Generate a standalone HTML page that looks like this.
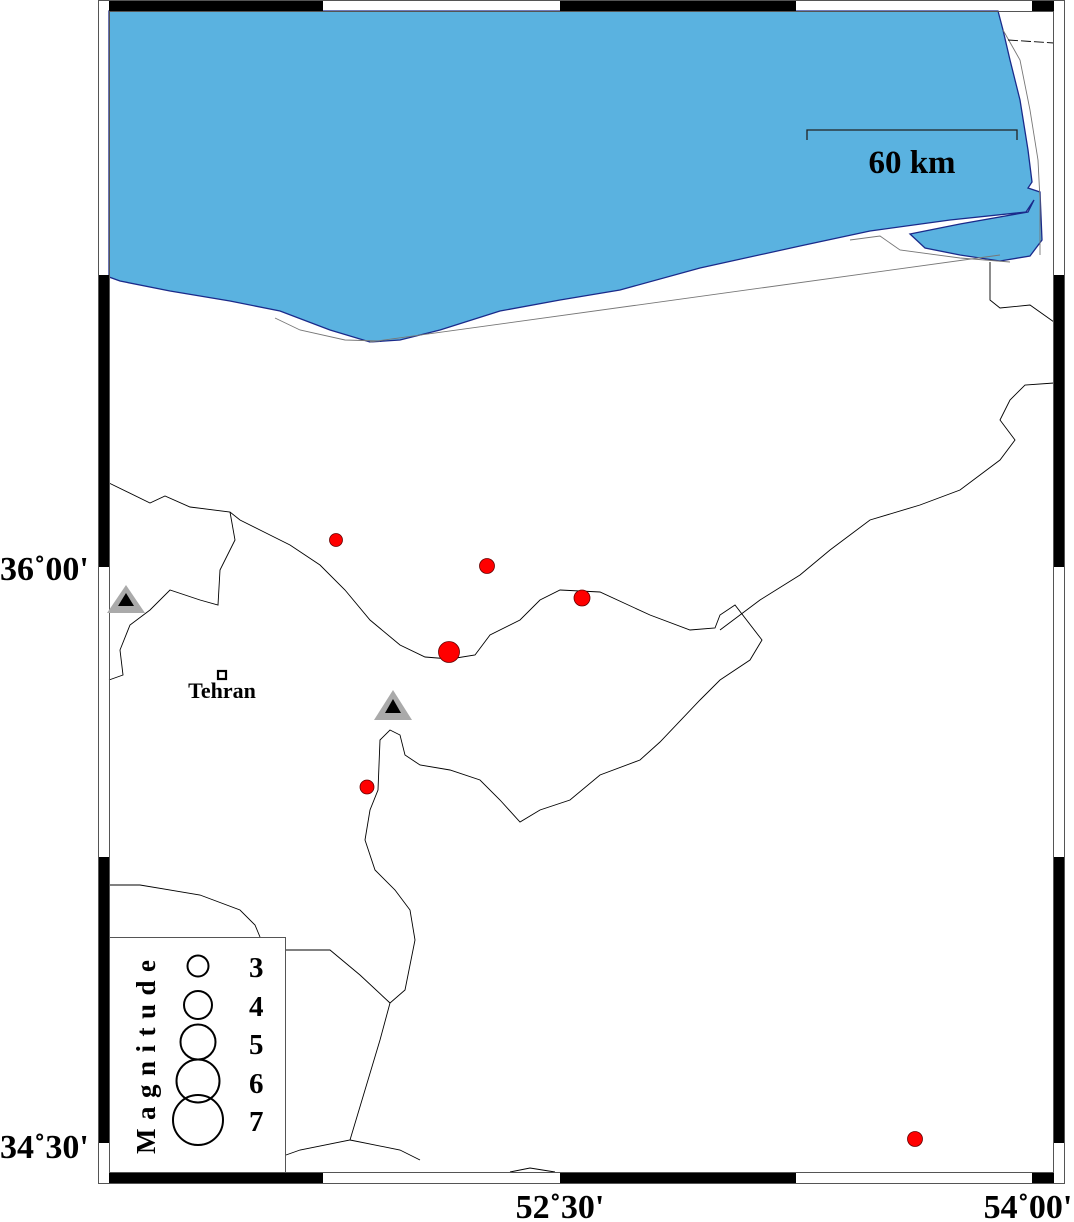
<!DOCTYPE html>
<html><head><meta charset="utf-8"><style>
html,body{margin:0;padding:0;background:#fff;}
svg{display:block;}
text{font-family:"Liberation Serif",serif;font-weight:bold;}
</style></head><body>
<svg width="1074" height="1222" viewBox="0 0 1074 1222" xmlns="http://www.w3.org/2000/svg">
<rect width="1074" height="1222" fill="#fff"/>
<path d="M109,11 L998,11 L1003,30 L1010,60 L1020,100 L1028,150 L1032,182 L1028,188 L1040,192 L1042,240 L1030,256 L1000,261 L960,255 L925,248 L910,234 L960,224 L1028,212 L1034,200 L1026,212 L950,220 L870,231 L800,246 L700,268 L620,290 L560,300 L500,311 L440,330 L400,340 L370,342 L330,330 L280,311 L230,301 L170,291 L120,281 L109,277 Z" fill="#5ab2e0" stroke="#1a2a8a" stroke-width="1.3"/>
<g fill="none" stroke="#777" stroke-width="0.9">
<path d="M370,342 L1000,255"/>
<path d="M275,318 L300,330 L345,340 L380,341"/>
<path d="M1003,30 L1020,60 L1030,110 L1038,160 L1040,200 L1040,255"/>
<path d="M850,240 L880,236 L900,250 L960,258 L1010,262"/>
</g>
<g fill="none" stroke="#000" stroke-width="0.9">
<path d="M1008,40 L1054,43" stroke-dasharray="10,3"/>
<path d="M990,262 L990,300 L1000,308 L1030,305 L1054,322"/>
<path d="M109,483 L150,503 L165,496 L190,507 L230,512 L240,520 L270,535 L290,545 L320,565 L345,590 L370,620 L400,645 L425,657 L450,659 L475,655 L490,635 L520,620 L540,600 L560,590 L600,592 L650,615 L690,630 L715,628 L720,615 L735,605 L762,640 L750,660 L720,680 L700,700 L660,742 L640,760 L600,775 L570,800 L540,810 L520,822 L500,800 L480,780 L450,770 L420,765 L405,755 L400,735 L390,730 L380,740 L378,790 L370,810 L365,840 L375,870 L395,890 L410,910 L415,940 L405,990 L390,1003 L380,1040 L365,1090 L350,1140 L300,1150 L286,1155"/>
<path d="M720,630 L760,600 L800,575 L830,550 L870,520 L920,505 L960,490 L1000,460 L1015,440 L1000,420 L1010,400 L1025,385 L1054,383"/>
<path d="M230,512 L235,540 L220,570 L218,605 L200,600 L170,590 L150,610 L130,625 L120,650 L123,675 L109,680"/>
<path d="M109,885 L140,885 L200,895 L240,910 L255,925 L260,937"/>
<path d="M286,950 L330,950 L360,975 L390,1003"/>
<path d="M350,1140 L400,1150 L420,1160"/>
<path d="M510,1172 L530,1168 L555,1172"/>
</g>
<rect x="98.5" y="0.5" width="966" height="1183" fill="none" stroke="#555" stroke-width="1"/>
<rect x="109.5" y="11.5" width="944" height="1161" fill="none" stroke="#555" stroke-width="1"/>
<g fill="#000">
<rect x="109" y="1" width="214" height="10"/><rect x="560" y="1" width="236" height="10"/><rect x="1032" y="1" width="22" height="10"/>
<rect x="109" y="1173" width="214" height="10"/><rect x="560" y="1173" width="236" height="10"/><rect x="1032" y="1173" width="22" height="10"/>
<rect x="99" y="275" width="10" height="292"/><rect x="99" y="857" width="10" height="286"/>
<rect x="1054" y="275" width="10" height="292"/><rect x="1054" y="857" width="10" height="286"/>
</g>
<path d="M807,140 L807,130 L1017,130 L1017,140" fill="none" stroke="#222" stroke-width="1.3"/>
<text x="912" y="173" font-size="33" text-anchor="middle">60 km</text>
<g fill="#f00" stroke="#600" stroke-width="0.8">
<circle cx="336" cy="540" r="6.5"/><circle cx="487" cy="566" r="7.5"/><circle cx="582" cy="598" r="8"/>
<circle cx="449" cy="652" r="10.5"/><circle cx="367" cy="787" r="7"/><circle cx="915" cy="1139" r="7.5"/>
</g>
<polygon points="126,585 145,613 107,613" fill="#aaa"/><polygon points="126,593 134,606 118,606" fill="#000"/>
<polygon points="393,690 412,720 374,720" fill="#aaa"/><polygon points="393,699 401,713 385,713" fill="#000"/>
<rect x="218" y="671" width="8" height="8" fill="#fff" stroke="#000" stroke-width="2.2"/>
<text x="222" y="698" font-size="22" text-anchor="middle">Tehran</text>
<rect x="109.5" y="937.5" width="176" height="235" fill="#fff" stroke="#555" stroke-width="1"/>
<g fill="none" stroke="#000" stroke-width="2">
<circle cx="198" cy="966" r="10.5"/><circle cx="198" cy="1005" r="14"/><circle cx="198" cy="1042" r="17.5"/><circle cx="198" cy="1081" r="21.5"/><circle cx="198" cy="1120" r="25"/>
</g>
<g font-size="29">
<text x="249" y="977">3</text><text x="249" y="1016">4</text><text x="249" y="1054">5</text><text x="249" y="1093">6</text><text x="249" y="1131">7</text>
</g>
<text transform="translate(155,1154) rotate(-90)" font-size="27" letter-spacing="8.5">Magnitude</text>
<g font-size="34">
<text x="0" y="580">36˚00'</text>
<text x="0" y="1158">34˚30'</text>
<text x="560" y="1218" text-anchor="middle">52˚30'</text>
<text x="1028" y="1218" text-anchor="middle">54˚00'</text>
</g>
</svg>
</body></html>
